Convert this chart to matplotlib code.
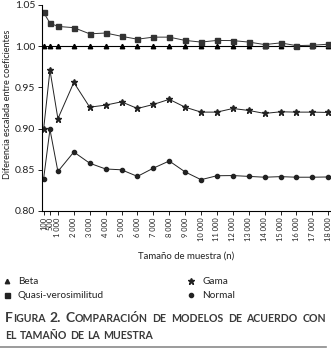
import matplotlib
matplotlib.use("Agg")
import matplotlib.pyplot as plt
from matplotlib.lines import Line2D

# datos
tamanos = [100, 500, 1000, 2000, 3000, 4000, 5000, 6000, 7000, 8000,
           9000, 10000, 11000, 12000, 13000, 14000, 15000, 16000, 17000, 18000]
etiquetas = ["100", "500", "1 000", "2 000", "3 000", "4 000", "5 000", "6 000",
             "7 000", "8 000", "9 000", "10 000", "11 000", "12 000", "13 000",
             "14 000", "15 000", "16 000", "17 000", "18 000"]
beta = [1.000, 1.000, 1.000, 1.000, 1.000, 1.000, 1.000, 1.000, 1.000, 1.000,
        1.000, 1.000, 1.000, 1.000, 1.000, 1.000, 1.000, 1.000, 1.000, 1.000]
quasi = [1.041, 1.028, 1.024, 1.0225, 1.015, 1.016, 1.012, 1.0085, 1.011, 1.011,
         1.007, 1.005, 1.007, 1.0068, 1.005, 1.002, 1.004, 1.0007, 1.0012, 1.0024]
gama = [0.899, 0.971, 0.912, 0.956, 0.926, 0.9285, 0.9325, 0.9244, 0.9293, 0.9355,
        0.926, 0.920, 0.920, 0.9244, 0.922, 0.9184, 0.9204, 0.920, 0.920, 0.9196]
normal = [0.839, 0.899, 0.848, 0.8716, 0.858, 0.851, 0.850, 0.842, 0.852, 0.8607,
          0.8474, 0.838, 0.8428, 0.843, 0.842, 0.841, 0.8417, 0.841, 0.841, 0.8413]

plt.rcParams['font.family'] = ['Lato', 'DejaVu Sans']

W, H = 331, 351
fig = plt.figure(figsize=(W / 100, H / 100), dpi=100)
ax = fig.add_axes([42 / W, 1 - 211 / H, (W - 42) / W, (211 - 5) / H])

ax.plot(tamanos, beta, color="black", lw=0.8, marker="^", ms=3.2, label="Beta")
ax.plot(tamanos, quasi, color="#333333", lw=0.7, marker="s", ms=3.6, label="Quasi-verosimilitud")
ax.plot(tamanos, gama, color="#222222", lw=0.7, marker="*", ms=5, label="Gama")
ax.plot(tamanos, normal, color="#222222", lw=0.7, marker="o", ms=3.0, label="Normal")

ax.set_xlim(0, 18170)
ax.set_ylim(0.80, 1.05)
ax.set_yticks([0.80, 0.85, 0.90, 0.95, 1.00, 1.05])
ax.set_yticklabels(["0.80", "0.85", "0.90", "0.95", "1.00", "1.05"])
ax.set_xticks(tamanos)
ax.set_xticklabels(etiquetas, rotation=90)
ax.tick_params(axis="both", labelsize=7.5, length=3, width=0.7, pad=2, colors="#222222")
ax.tick_params(axis="x", labelsize=5.4, pad=1.5)
for s in ["top", "right"]:
    ax.spines[s].set_visible(False)
for s in ["left", "bottom"]:
    ax.spines[s].set_linewidth(0.8)

ax.set_xlabel("Tamaño de muestra (n)", fontsize=6.9, color="#222222")
ax.xaxis.set_label_coords((186 - 42) / (W - 42), -(252 - 211) / (211 - 5))
ax.set_ylabel("Diferencia escalada entre coeficientes", fontsize=6.5, color="#222222")
ax.yaxis.set_label_coords(-(42 - 12) / (W - 42), 0.52)

handles, labels = ax.get_legend_handles_labels()
marcas = [Line2D([], [], ls="none", marker=h.get_marker(), color="#222222",
                 ms=h.get_markersize()) for h in handles]
fig.legend(marcas, labels, loc="upper left", bbox_to_anchor=(0.0, 1 - 275 / H),
           ncol=2, frameon=False, fontsize=7.2, handlelength=1.0, handletextpad=0.6,
           columnspacing=8.2, labelspacing=0.5, borderaxespad=0, borderpad=0.2,
           labelcolor="#222222")

# pie de figura en versalitas
renderer = fig.canvas.get_renderer()
grande, chica = 10, 7.6


def escribir_linea(palabras, y, x0, x1=None):
    piezas = []
    anchos = []
    for palabra in palabras:
        trozos = []
        ancho = 0
        for txt, tam in palabra:
            t = fig.text(0, y / H, txt, fontsize=tam, fontweight="bold",
                         color="#3a3a3a", va="baseline", ha="left",
                         transform=fig.transFigure)
            w = t.get_window_extent(renderer).width
            trozos.append((t, w))
            ancho += w
        piezas.append(trozos)
        anchos.append(ancho)
    if x1 is None:
        espacio = 3.2
    else:
        espacio = (x1 - x0 - sum(anchos)) / (len(palabras) - 1)
    x = x0
    for trozos in piezas:
        for t, w in trozos:
            t.set_x(x / W)
            x += w
        x += espacio


def versal(palabra, inicial=False):
    if inicial:
        return [(palabra[0], grande), (palabra[1:].upper(), chica)]
    return [(palabra.upper(), chica)]


linea1 = [versal("Figura", True), [("2.", grande)], versal("Comparación", True),
          versal("de"), versal("modelos"), versal("de"), versal("acuerdo"), versal("con")]
linea2 = [versal("el"), versal("tamaño"), versal("de"), versal("la"), versal("muestra")]
escribir_linea(linea1, H - 322, 5, 326)
escribir_linea(linea2, H - 339, 5)

fig.add_artist(Line2D([0, 326 / W], [1 - 347 / H, 1 - 347 / H], color="#8a8a8a",
                      lw=1.2, transform=fig.transFigure))

fig.savefig("out.png", dpi=100)
